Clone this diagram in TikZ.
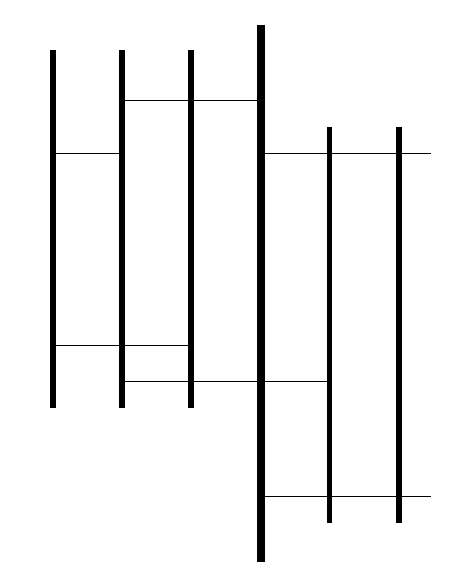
\documentclass[tikz,border=0pt]{standalone}
\begin{document}
\begin{tikzpicture}[x=1pt,y=-1pt,
  bar/.style={line width=5.5pt,line cap=butt},
  bigbar/.style={line width=8pt,line cap=butt},
  rung/.style={line width=1pt,line cap=butt}]
\useasboundingbox (0,0) rectangle (463,582);
% vertical bar endpoints
\coordinate (a1) at (53,50);  \coordinate (a2) at (53,408);
\coordinate (b1) at (122,50); \coordinate (b2) at (122,408);
\coordinate (c1) at (191,50); \coordinate (c2) at (191,408);
\coordinate (d1) at (260.5,24.5); \coordinate (d2) at (260.5,562);
\coordinate (e1) at (329.5,127); \coordinate (e2) at (329.5,523);
\coordinate (f1) at (399,127); \coordinate (f2) at (399,523);
% rung endpoints
\coordinate (r1s) at (122,100.3); \coordinate (r1e) at (260.5,100.3);
\coordinate (r2s) at (53,153.8);  \coordinate (r2e) at (122,153.8);
\coordinate (r3s) at (260.5,153.8); \coordinate (r3e) at (430.5,153.8);
\coordinate (r4s) at (53,345.3);  \coordinate (r4e) at (191,345.3);
\coordinate (r5s) at (122,381.7); \coordinate (r5e) at (329.5,381.7);
\coordinate (r6s) at (260.5,496.7); \coordinate (r6e) at (430.5,496.7);
% rungs
\draw[rung] (r1s) -- (r1e);
\draw[rung] (r2s) -- (r2e);
\draw[rung] (r3s) -- (r3e);
\draw[rung] (r4s) -- (r4e);
\draw[rung] (r5s) -- (r5e);
\draw[rung] (r6s) -- (r6e);
% bars
\draw[bar] (a1) -- (a2);
\draw[bar] (b1) -- (b2);
\draw[bar] (c1) -- (c2);
\draw[bigbar] (d1) -- (d2);
\draw[bar] (e1) -- (e2);
\draw[bar] (f1) -- (f2);
\end{tikzpicture}
\end{document}
